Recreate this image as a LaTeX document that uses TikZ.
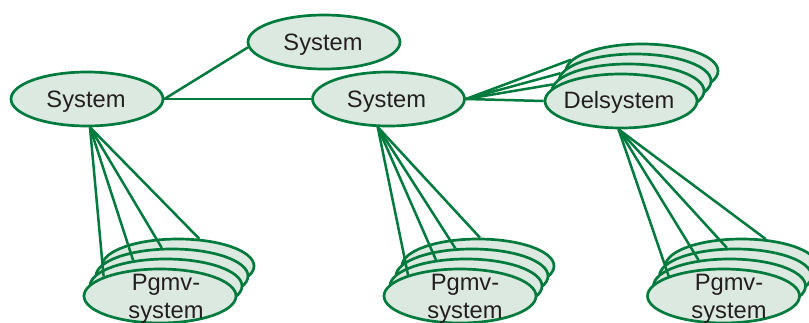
\documentclass[tikz,border=0pt]{standalone}
\usepackage{fontspec}
\setmainfont{Liberation Sans}
\usetikzlibrary{shapes.geometric}
\definecolor{edge}{RGB}{0,122,61}
\definecolor{bubble}{RGB}{220,233,224}
\definecolor{ink}{RGB}{35,31,32}
\begin{document}
\begin{tikzpicture}[x=1pt,y=-1pt,
  bub/.style={ellipse, draw=edge, fill=bubble, line width=2.7pt,
              minimum width=152pt, minimum height=54pt, inner sep=0pt},
  lbl/.style={anchor=base, text=ink, inner sep=0pt,
              font=\fontsize{23.7}{28}\selectfont},
  link/.style={draw=edge, line width=2.5pt}]
\useasboundingbox (0,0) rectangle (809,322);
\clip (0,0) rectangle (809,322);

% single systems
\node[bub] (sysT) at (324,42) {};
\node[bub] (sysL) at (87,99) {};
\node[bub] (sysM) at (388.5,99) {};

% stacked sub-systems, drawn back to front
\foreach \k in {3,2,1,0} {
  \node[bub] (d\k)  at ({621+7*\k},{101-10*\k}) {};
  \node[bub] (pa\k) at ({160+6*\k},{296-10*\k}) {};
  \node[bub] (pb\k) at ({460+6*\k},{296-10*\k}) {};
  \node[bub] (pc\k) at ({723.5+6*\k},{296-10*\k}) {};
}

% connectors between systems
\draw[link] (sysL.east) -- (sysT.184);
\draw[link] (sysL.east) -- (sysM.west);
\foreach \k/\a in {0/180,1/175,2/174,3/171}
  \draw[link] (sysM.east) -- (d\k.\a);

% fans down to the program systems
\coordinate (oL) at ([xshift=3pt]sysL.south);
\coordinate (oM) at (sysM.249);
\coordinate (oD) at (d0.265);
\foreach \k/\a in {0/161,1/142,2/110,3/52}
  \draw[link] (oL) -- (pa\k.\a);
\foreach \k/\a in {0/158,1/139,2/121,3/86}
  \draw[link] (oM) -- (pb\k.\a);
\foreach \k/\a in {0/160,1/140,2/107,3/48}
  \draw[link] (oD) -- (pc\k.\a);

% labels
\node[lbl] (tT) at (323,50) {System};
\node[lbl] (tL) at (86,107) {System};
\node[lbl] (tM) at (386.5,107) {System};
\node[lbl] (tD) at (619,108) {Delsystem};
\node[lbl] (ta1) at (166,290) {Pgmv-};
\node[lbl] (ta2) at (166,318) {system};
\node[lbl] (tb1) at (465,290) {Pgmv-};
\node[lbl] (tb2) at (465,318) {system};
\node[lbl] (tc1) at (729,290) {Pgmv-};
\node[lbl] (tc2) at (729,318) {system};
\end{tikzpicture}
\end{document}
